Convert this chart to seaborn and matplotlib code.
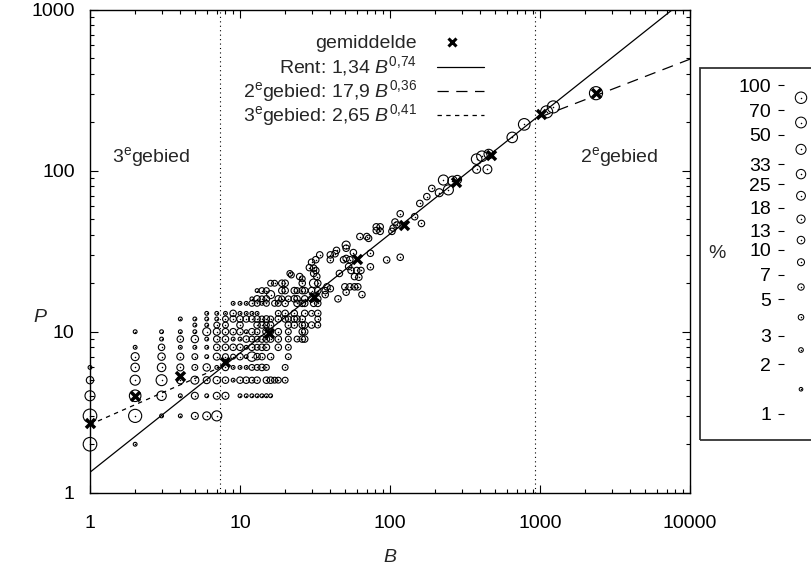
import numpy as np
import pandas as pd
import seaborn as sns
import matplotlib
matplotlib.use("Agg")
import matplotlib.pyplot as plt
from matplotlib.ticker import FuncFormatter, NullLocator, LogLocator
from matplotlib.patches import Rectangle

# ---------------- data ----------------
# (B, P, percentage) for the low-B grid region
grid_pts = [
    (1, 2, 100), (1, 3, 100), (1, 4, 20), (1, 5, 6), (1, 6, 1.2),
    (2, 2, 1.2), (2, 3, 80), (2, 4, 40), (2, 5, 20), (2, 6, 10), (2, 7, 8), (2, 8, 1.2), (2, 10, 1.2),
    (3, 3, 1.2), (3, 4, 15), (3, 5, 30), (3, 6, 10), (3, 7, 6), (3, 8, 4), (3, 9, 1.2), (3, 10, 1.2),
    (4, 3, 1.2), (4, 4, 1.2), (4, 5, 6), (4, 6, 5), (4, 7, 5), (4, 8, 1.2), (4, 9, 4), (4, 10, 1.2), (4, 12, 1.2),
    (5, 3, 5), (5, 4, 5), (5, 5, 8), (5, 6, 3), (5, 7, 3), (5, 8, 1.2), (5, 9, 6), (5, 10, 1.2), (5, 11, 1.2), (5, 12, 1.2),
    (6, 3, 8), (6, 4, 1.2), (6, 5, 5), (6, 6, 6), (6, 7, 1.2), (6, 8, 1.2), (6, 9, 1.2), (6, 10, 8), (6, 11, 1.2), (6, 12, 1.2), (6, 13, 1.2),
    (7, 3, 20), (7, 4, 5), (7, 5, 6), (7, 6, 1.2), (7, 7, 5), (7, 8, 4), (7, 9, 4), (7, 10, 5), (7, 11, 3), (7, 12, 1.2), (7, 13, 1.2),
    (8, 4, 5), (8, 5, 4), (8, 6, 4), (8, 7, 3), (8, 8, 4), (8, 9, 4), (8, 10, 4), (8, 11, 3), (8, 12, 3), (8, 13, 1.2),
    (9, 5, 1.2), (9, 6, 1.2), (9, 7, 2), (9, 8, 4), (9, 9, 1.2), (9, 10, 4), (9, 12, 4), (9, 13, 4), (9, 15, 1.2),
    (10, 4, 1.2), (10, 5, 4), (10, 6, 1.2), (10, 7, 4), (10, 8, 4), (10, 9, 1.2), (10, 10, 4), (10, 11, 4), (10, 12, 4), (10, 13, 1.2), (10, 15, 1.2),
    (11, 4, 1.2), (11, 5, 4), (11, 6, 1.2), (11, 7, 1.2), (11, 8, 1.2), (11, 9, 4), (11, 10, 1.2), (11, 12, 4), (11, 13, 1.2), (11, 15, 1.2),
    (12, 4, 1.2), (12, 5, 3), (12, 6, 3), (12, 7, 15), (12, 8, 4), (12, 9, 3), (12, 10, 4), (12, 12, 4), (12, 13, 1.2), (12, 15, 3), (12, 16, 1.2),
    (13, 4, 1.2), (13, 5, 4), (13, 6, 3), (13, 7, 4), (13, 8, 3), (13, 9, 3), (13, 10, 3), (13, 11, 4), (13, 12, 4), (13, 13, 1.2), (13, 15, 3), (13, 16, 4), (13, 18, 1.2),
    (14, 4, 1.2), (14, 6, 4), (14, 7, 4), (14, 8, 4), (14, 9, 4), (14, 11, 4), (14, 12, 3), (14, 15, 1.2), (14, 16, 3), (14, 18, 3),
    (15, 4, 1.2), (15, 5, 4), (15, 6, 3), (15, 8, 4), (15, 9, 4), (15, 10, 6), (15, 11, 3), (15, 12, 4), (15, 15, 3), (15, 16, 4), (15, 18, 3),
    (16, 4, 1.2), (16, 5, 4), (16, 7, 4), (16, 9, 4), (16, 10, 3), (16, 11, 4), (16, 12, 3), (16, 17, 8), (16, 20, 3),
    (17, 5, 3), (17, 15, 3), (17, 20, 3),
    (18, 5, 3), (18, 8, 4), (18, 9, 4), (18, 10, 4), (18, 12, 4), (18, 13, 3), (18, 15, 3), (18, 16, 4),
    (19, 16, 3), (19, 18, 4), (19, 20, 4),
    (20, 5, 3), (20, 6, 3), (20, 12, 4), (20, 13, 4), (20, 15, 4), (20, 18, 4), (20, 20, 4),
    (21, 7, 3), (21, 8, 3), (21, 9, 3), (21, 10, 3), (21, 11, 4), (21, 12, 3), (21, 16, 3),
    (23, 11, 4), (23, 12, 4), (23, 13, 4), (23, 16, 4), (23, 18, 4),
    (24, 9, 3), (24, 12, 4), (24, 15, 4), (24, 16, 4), (24, 18, 3),
    (26, 9, 4), (26, 10, 4), (26, 11, 4), (26, 12, 4), (26, 15, 4), (26, 18, 4), (26, 20, 4),
    (27, 9, 4), (27, 10, 4), (27, 11, 4), (27, 13, 4), (27, 15, 4), (27, 16, 4), (27, 18, 4),
    (30, 11, 4), (30, 13, 3), (30, 16, 4), (30, 18, 4),
    (31, 15, 4), (31, 20, 10),
    (33, 11, 3), (33, 12, 3), (33, 13, 4), (33, 15, 4), (33, 16, 4), (33, 18, 4), (33, 20, 4),
    (37, 17, 4), (37, 18, 4),
]

# (B, P, percentage) for the middle band
band_pts = [
    (54, 19, 4), (58, 19, 4), (61, 19, 4), (65, 17, 4), (50, 19, 4), (51, 17.6, 4), (45, 16, 4), (40, 18.5, 4), (38, 19, 4),
    (51, 34.5, 8), (51, 33, 4), (57, 31, 4), (49, 28, 4), (51, 28.5, 4), (54, 28, 4), (44, 32, 4), (40, 30, 4),
    (43, 30.5, 4), (40, 28, 4), (34, 30, 4), (32, 28, 4), (29, 25, 4), (30, 27, 4), (31, 24.8, 4), (32, 24, 4),
    (31, 23, 4), (32.5, 22, 4), (25, 22, 4), (21.5, 23, 3), (22, 22.5, 3), (46, 23, 4), (53, 25.4, 4), (55, 24, 4),
    (60, 24, 4), (64, 24, 4), (58, 22, 4), (62, 21.8, 4), (26, 21.3, 3),
    (117, 54, 4), (105, 44, 4), (108, 48, 4), (111, 46, 4), (103, 42, 4), (81, 44.8, 4), (86, 44.8, 4),
    (81, 42.5, 4), (86, 42, 4), (72, 38, 4), (70, 39, 4), (63, 39, 4), (95, 27.9, 4), (117, 29, 4),
    (74, 30.7, 4), (74, 25.3, 4), (146, 51.8, 4), (162, 47, 4), (158, 62.6, 4), (176, 69, 4), (190, 77.6, 4),
]

# (B, P, percentage) for the high-B region
top_pts = [
    (213, 73, 8), (245, 76, 20), (227, 87.5, 20), (261, 86.5, 15), (281, 88, 10),
    (378, 102, 8), (446, 102, 12), (378, 118, 25), (410, 123, 25), (455, 127, 15),
    (653, 161, 25), (785, 194, 40), (1107, 232, 50), (1227, 249, 50), (2362, 303, 80),
]

# averages ("gemiddelde")
mean_B = [1, 2, 4, 8, 15.5, 31, 60, 124, 275, 472, 1011, 2362]
mean_P = [2.7, 4.0, 5.3, 6.5, 9.8, 16.5, 28.2, 46, 85.5, 125, 224, 303]

# power-law fits  P = a * B^b
fit_names = ["Rent", "2egebied", "3egebied"]
fit_a = [1.34, 17.9, 2.65]
fit_b = [0.74, 0.36, 0.41]
fit_Bmin = [1, 1000, 1]
fit_Bmax = [10000, 10000, 8]

# region boundaries (dotted lines)
region_B = [7.35, 925]

# size key
key_pct = [100, 70, 50, 33, 25, 18, 13, 10, 7, 5, 3, 2, 1]

xticks = [1, 10, 100, 1000, 10000]
yticks = [1, 10, 100, 1000]

# ---------------- styling ----------------
sns.set_theme(style="ticks")
plt.rcParams["font.family"] = ["Liberation Sans", "DejaVu Sans"]
plt.rcParams["mathtext.fontset"] = "custom"
plt.rcParams["mathtext.rm"] = "Liberation Sans"
plt.rcParams["mathtext.it"] = "Liberation Sans:italic"
plt.rcParams["mathtext.bf"] = "Liberation Sans:bold"
FS = 14

W, H = 812, 573
fig = plt.figure(figsize=(W / 100, H / 100), dpi=100)
X0, X1, Y0, Y1 = 90, 690, 492.7, 9.7
ax = fig.add_axes([X0 / W, 1 - Y0 / H, (X1 - X0) / W, (Y0 - Y1) / H])


def rad(p):
    return 1.7 + 2.55 * np.log10(p)


def area(p):
    return (2 * rad(np.asarray(p, dtype=float)) * 0.72) ** 2


df = pd.DataFrame(grid_pts + band_pts + top_pts, columns=["B", "P", "pct"])
df["area"] = area(df["pct"])
amin, amax = df["area"].min(), df["area"].max()

sns.scatterplot(data=df, x="B", y="P", size="area", sizes=(amin, amax),
                size_norm=(amin, amax), fc="none", ec="black", linewidth=0.8,
                legend=False, ax=ax, clip_on=False, zorder=3)
sns.scatterplot(data=df, x="B", y="P", s=1.2, color="black", linewidth=0,
                legend=False, ax=ax, clip_on=False, zorder=3)

# fits
styles = [dict(ls="-"), dict(ls=(0, (9, 6))), dict(ls=(0, (3.5, 3.5)))]
for a, b, lo, hi, st in zip(fit_a, fit_b, fit_Bmin, fit_Bmax, styles):
    bb = np.logspace(np.log10(lo), np.log10(hi), 200)
    ax.plot(bb, a * bb ** b, color="black", lw=0.9, zorder=4, **st)

for rb in region_B:
    ax.axvline(rb, color="black", lw=0.8, ls=(0, (1, 3)), zorder=2)

sns.scatterplot(x=mean_B, y=mean_P, marker="x", s=42, color="black",
                linewidth=2.5, ax=ax, zorder=6, clip_on=False, legend=False)

ax.set_xscale("log")
ax.set_yscale("log")
ax.set_xlim(1, 10000)
ax.set_ylim(1, 1000)
ax.set_xticks(xticks)
ax.set_yticks(yticks)
fmt = FuncFormatter(lambda v, _: f"{v:g}")
ax.xaxis.set_major_formatter(fmt)
ax.yaxis.set_major_formatter(fmt)
ax.xaxis.set_minor_locator(LogLocator(base=10, subs=np.arange(2, 10), numticks=20))
ax.yaxis.set_minor_locator(LogLocator(base=10, subs=np.arange(2, 10), numticks=20))
ax.tick_params(which="both", direction="in", top=True, right=True, colors="black",
               labelsize=FS)
ax.tick_params(which="major", length=6, width=0.8)
ax.tick_params(which="minor", length=3, width=0.8)
ax.tick_params(axis="x", which="major", pad=16)
ax.tick_params(axis="y", which="major", pad=11)
for s in ax.spines.values():
    s.set_color("black")
    s.set_linewidth(1.0)

ax.set_xlabel("B", fontsize=FS, style="italic")
ax.set_ylabel("P", fontsize=FS, style="italic", rotation=0)
ax.xaxis.set_label_coords(0.5, (Y0 - 557) / (Y0 - Y1), transform=ax.transAxes)
ax.yaxis.set_label_coords((40 - X0) / (X1 - X0), (Y0 - 318) / (Y0 - Y1), transform=ax.transAxes)
ax.xaxis.label.set_va("center")
ax.yaxis.label.set_va("center")
ax.yaxis.label.set_ha("center")


def axf(x, y):
    return (x - X0) / (X1 - X0), (Y0 - y) / (Y0 - Y1)


ax.text(*axf(112, 162), r"3$^{\mathrm{e}}$gebied", fontsize=FS, ha="left", va="baseline",
        transform=ax.transAxes)
ax.text(*axf(580, 162), r"2$^{\mathrm{e}}$gebied", fontsize=FS, ha="left", va="baseline",
        transform=ax.transAxes)

# ---------- legend (top) ----------
leg_labels = ["gemiddelde",
              r"Rent: 1,34 $B^{0{,}74}$",
              r"2$^{\mathrm{e}}$gebied: 17,9 $B^{0{,}36}$",
              r"3$^{\mathrm{e}}$gebied: 2,65 $B^{0{,}41}$"]
base_y = [48.5, 73, 97.5, 121.5]
for lab, by in zip(leg_labels, base_y):
    ax.text(*axf(417, by), lab, fontsize=FS, ha="right", va="baseline", transform=ax.transAxes)
lx0, lx1 = axf(437, 0)[0], axf(484, 0)[0]
mx, my = axf(452, base_y[0] - 7)
ax.plot([mx], [my], marker="x", ms=5.5, mew=2.2, color="black", transform=ax.transAxes, clip_on=False)
for st, by in zip(styles, base_y[1:]):
    yy = axf(0, by - 6.5)[1]
    ax.plot([lx0, lx1], [yy, yy], color="black", lw=0.9, transform=ax.transAxes, clip_on=False, **st)

# ---------- size key (right) ----------
BX0, BY0, BY1 = 700, 68, 440
fig.add_artist(Rectangle((BX0 / W, 1 - BY1 / H), 0.3, (BY1 - BY0) / H, transform=fig.transFigure,
                         fill=False, ec="#333333", lw=1.3))
lax = fig.add_axes([778 / W, 1 - BY1 / H, 46 / W, (BY1 - BY0) / H])
lax.set_yscale("log")
pxdec = 164.5
lax.set_ylim(10 ** (-(BY1 - 414) / pxdec), 10 ** (2 + (85 - BY0) / pxdec))
lax.set_xlim(0, 1)
lax.patch.set_alpha(0)
for s in lax.spines.values():
    s.set_visible(False)
lax.set_yticks(key_pct)
lax.set_yticklabels([str(v) for v in key_pct])
lax.yaxis.set_minor_locator(NullLocator())
lax.set_xticks([])
lax.tick_params(axis="y", direction="in", length=4, width=0.8, pad=5, labelsize=FS,
                colors="black", right=False, left=True)
mid = [np.sqrt(a * b) for a, b in zip(key_pct[:-1], key_pct[1:])]
kdf = pd.DataFrame({"x": 0.5, "y": mid, "area": area(mid) * 0.75})
sns.scatterplot(data=kdf, x="x", y="y", size="area", sizes=(kdf.area.min(), kdf.area.max()),
                size_norm=(kdf.area.min(), kdf.area.max()), fc="none", ec="black",
                linewidth=0.75, legend=False, ax=lax, clip_on=False)
sns.scatterplot(data=kdf, x="x", y="y", s=1.2, color="black", linewidth=0, legend=False,
                ax=lax, clip_on=False)
lax.set_xlabel("")
lax.set_ylabel("")
fig.text(717 / W, 1 - 258 / H, "%", fontsize=FS, ha="center", va="baseline")

fig.savefig("out.png", dpi=100)
